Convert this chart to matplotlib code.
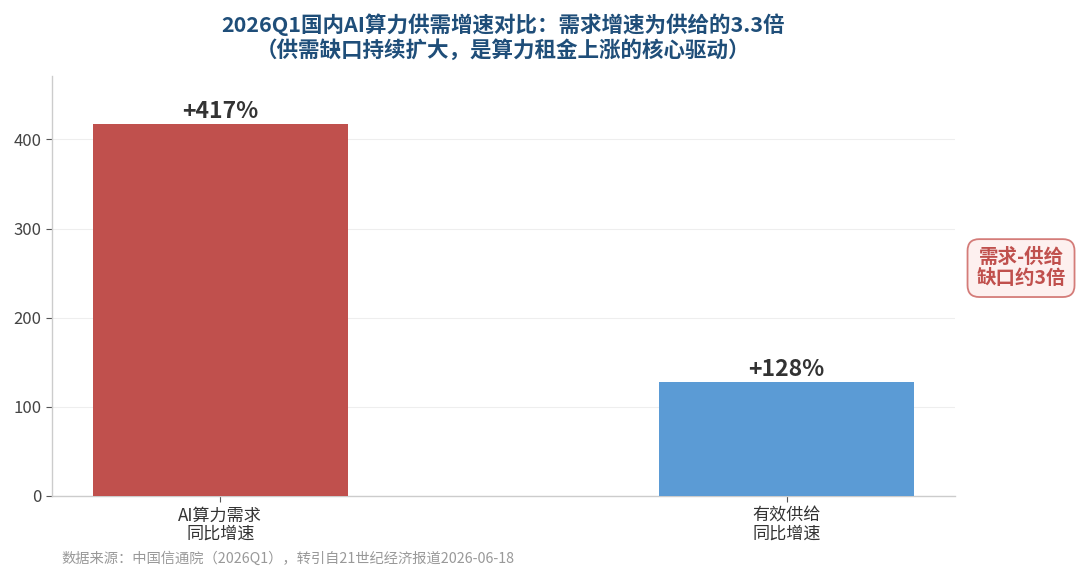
import matplotlib
matplotlib.use("Agg")
import matplotlib.pyplot as plt

plt.rcParams['font.family'] = ['Noto Sans CJK SC', 'DejaVu Sans']

categories = ["AI算力需求\n同比增速", "有效供给\n同比增速"]
values = [417, 128]
labels = ["+417%", "+128%"]
colors = ["#C0504D", "#5B9BD5"]
yticks = [0, 100, 200, 300, 400]
title = "2026Q1国内AI算力供需增速对比：需求增速为供给的3.3倍\n（供需缺口持续扩大，是算力租金上涨的核心驱动）"
note = "需求-供给\n缺口约3倍"
source = "数据来源：中国信通院（2026Q1），转引自21世纪经济报道2026-06-18"

fig = plt.figure(figsize=(10.8, 5.79), dpi=100)
ax = fig.add_axes([0.0481, 0.1434, 0.8361, 0.7253])

x = list(range(len(categories)))
ax.bar(x, values, width=0.45, color=colors, zorder=3)
for xi, v, lab in zip(x, values, labels):
    ax.annotate(lab, (xi, v), xytext=(0, 1), textcoords="offset points",
                ha="center", va="bottom", fontsize=16.5, fontweight="bold", color="#333333")

ax.set_xticks(x)
ax.set_xticklabels(categories, fontsize=12.3, color="#333333", linespacing=1.0)
ax.set_yticks(yticks)
ax.tick_params(axis='y', labelsize=12, labelcolor="#444444", color="#555555", length=4)
ax.tick_params(axis='x', color="#555555", length=4)
ax.set_ylim(0, max(values) * 1.13)
ax.grid(axis='y', color="#EEEEEE", linewidth=0.8, zorder=0)
for s in ["top", "right"]:
    ax.spines[s].set_visible(False)
for s in ["left", "bottom"]:
    ax.spines[s].set_color("#CCCCCC")
    ax.spines[s].set_linewidth(1.0)

ax.set_title(title, fontsize=15.5, fontweight="bold", color="#1F4E79", pad=14, linespacing=1.15)

fig.text(0.9454, 0.537, note, ha="center", va="center", fontsize=14, fontweight="bold",
         color="#C0504D", linespacing=1.15,
         bbox=dict(boxstyle="round,pad=0.45,rounding_size=0.6", facecolor="#FDF0EF",
                   edgecolor="#D47C79", linewidth=1.3))

fig.text(0.057, 0.036, source, ha="left", va="center", fontsize=10.3, color="#999999")

fig.savefig("out.png", dpi=100)
